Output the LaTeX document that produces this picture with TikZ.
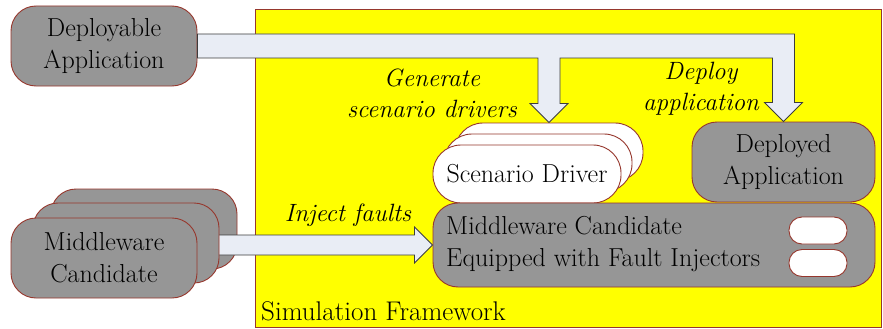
\documentclass[tikz,border=0pt]{standalone}
\usetikzlibrary{calc}

\definecolor{boxgray}{RGB}{150,150,150}
\definecolor{boxline}{RGB}{150,55,45}
\definecolor{arrowfill}{RGB}{233,237,245}
\definecolor{arrowline}{RGB}{60,60,60}
\definecolor{simyellow}{RGB}{255,255,0}

\tikzset{
  box/.style={draw=boxline, fill=boxgray, line width=0.9pt, rounded corners=25pt, minimum width=186pt, minimum height=80pt, align=center, inner sep=0pt},
  pill/.style={draw=boxline, fill=white, line width=0.9pt, rounded corners=28pt, minimum width=188pt, minimum height=58pt, inner sep=0pt},
  injpill/.style={draw=boxline, fill=white, line width=0.9pt, rounded corners=13pt, minimum width=58pt, minimum height=27pt, inner sep=0pt},
  bigarrow/.style={draw=arrowline, fill=arrowfill, line width=0.8pt},
  lbl/.style={font=\fontsize{25}{31}\selectfont\itshape, align=center, inner sep=0pt},
}

\begin{document}
\begin{tikzpicture}[x=1pt, y=-1pt, every node/.style={font=\fontsize{26}{32}\selectfont}]
    \useasboundingbox (0,0) rectangle (883,329);

    % simulation framework
    \draw[draw=boxline, fill=simyellow, line width=0.7pt] (255,9) rectangle (881,327);
    \node[anchor=west, inner sep=0pt, font=\fontsize{27}{32}\selectfont] (simfw) at (261,311) {Simulation Framework};

    % boxes outside
    \node[box] (depapp) at (104,46) {Deployable\\Application};
    \node[box] (mw3) at (144,229) {};

    % boxes inside
    \node[pill] (sd3) at (549,152) {};
    \node[pill] (sd2) at (538,163) {};
    \node[pill] (sd1) at (527,174) {Scenario Driver};
    \node[box, minimum width=183pt] (deployed) at (783.5,162) {Deployed\\Application};
    \node[box, minimum width=442pt, minimum height=84pt] (mwfi) at (654,245) {};
    \node[anchor=west, align=left, inner sep=0pt] (mwfitext) at (446,244) {Middleware Candidate\\Equipped with Fault Injectors};
    \node[injpill] (inj1) at (818,230.5) {};
    \node[injpill] (inj2) at (818,263) {};

    % deploy / generate arrow
    \coordinate (bandtop) at ($(depapp.east)+(0,-12)$);
    \coordinate (bandbot) at ($(depapp.east)+(0,12)$);
    \draw[bigarrow] (bandtop) -- ($(bandtop -| deployed.north)+(11,0)$)
        -- ($(deployed.north)+(11,-19)$) -- ++(8,0) -- (deployed.north) -- ++(-19,-19) -- ++(8,0)
        -- ($(bandbot -| deployed.north)+(-11,0)$) -- ($(bandbot -| sd3.north)+(11,0)$)
        -- ($(sd3.north)+(11,-19)$) -- ++(8,0) -- (sd3.north) -- ++(-19,-19) -- ++(8,0)
        -- ($(bandbot -| sd3.north)+(-11,0)$) -- (bandbot) -- cycle;

    % inject arrow
    \draw[bigarrow] ($(mw3.east |- mwfi.west)+(-20,-10)$) -- ($(mwfi.west)+(-18,-10)$) -- ++(0,-8)
        -- (mwfi.west) -- ++(-18,18) -- ++(0,-8) -- ($(mw3.east |- mwfi.west)+(-20,10)$) -- cycle;
    \node[box] (mw2) at (126,243) {};
    \node[box] (mw1) at (104,258) {Middleware\\Candidate};

    % labels
    \node[lbl] (genlbl) at (432,93) {Generate\\scenario drivers};
    \node[lbl] (deplbl) at (701,89) {Deploy\\application};
    \node[lbl] (injlbl) at (348,215) {Inject faults};
\end{tikzpicture}
\end{document}
